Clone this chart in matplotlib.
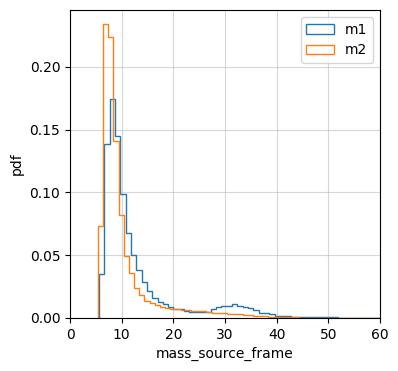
import matplotlib
matplotlib.use("Agg")
import matplotlib.pyplot as plt
import numpy as np

# density per bin (bins ~1 unit wide)
m1_start, m1_width = 5.6, 1.03
m1_pdf = [0.0348, 0.1384, 0.1748, 0.1448, 0.0988, 0.0677, 0.050, 0.038, 0.029, 0.0215,
          0.016, 0.013, 0.011, 0.0085, 0.0074, 0.0074, 0.0058, 0.0048, 0.0048, 0.0048,
          0.0048, 0.0069, 0.0085, 0.0093, 0.0095, 0.011, 0.0093, 0.0085, 0.0077, 0.0061,
          0.0043, 0.0037, 0.0032, 0.0013, 0.0013, 0.0013, 0.0006, 0.0006, 0.0005, 0.0005,
          0.0005, 0.0004, 0.0004, 0.0004, 0.0004, 0.0003, 0.0003, 0.0003, 0.0003, 0.0003,
          0.0003, 0.0003, 0.0003, 0.0003, 0.0003, 0.0003]

m2_start, m2_width = 5.4, 1.0
m2_pdf = [0.073, 0.234, 0.2237, 0.1408, 0.0818, 0.0492, 0.0356, 0.0242, 0.018, 0.0138,
          0.0117, 0.0104, 0.009, 0.0077, 0.0069, 0.0069, 0.0065, 0.0060, 0.0058, 0.0057,
          0.0056, 0.0050, 0.0042, 0.0040, 0.0038, 0.0033, 0.0030, 0.0028, 0.0024, 0.0022,
          0.0018, 0.0015, 0.0012, 0.0008, 0.0005, 0.0005, 0.0004, 0.0004, 0.0004, 0.0003,
          0.0003, 0.0003, 0.0003, 0.0003, 0.0003, 0.0003, 0.0003, 0.0003, 0.0003, 0.0003,
          0.0003, 0.0003, 0.0003, 0.0003, 0.0003, 0.0003]

m1_edges = m1_start + m1_width * np.arange(len(m1_pdf) + 1)
m2_edges = m2_start + m2_width * np.arange(len(m2_pdf) + 1)

fig, ax = plt.subplots(figsize=(3.98, 3.71), dpi=100)
fig.subplots_adjust(left=0.176, right=0.955, top=0.973, bottom=0.143)

ax.hist(m1_edges[:-1], bins=m1_edges, weights=m1_pdf, histtype='step', label='m1')
ax.hist(m2_edges[:-1], bins=m2_edges, weights=m2_pdf, histtype='step', label='m2')

ax.set_xlim(0, 60)
ax.set_ylim(0, 0.2454)
ax.set_xlabel('mass_source_frame')
ax.set_ylabel('pdf')
ax.grid(True, alpha=0.5)
ax.set_axisbelow(True)
ax.legend(loc='upper right')

plt.savefig('out.png')
